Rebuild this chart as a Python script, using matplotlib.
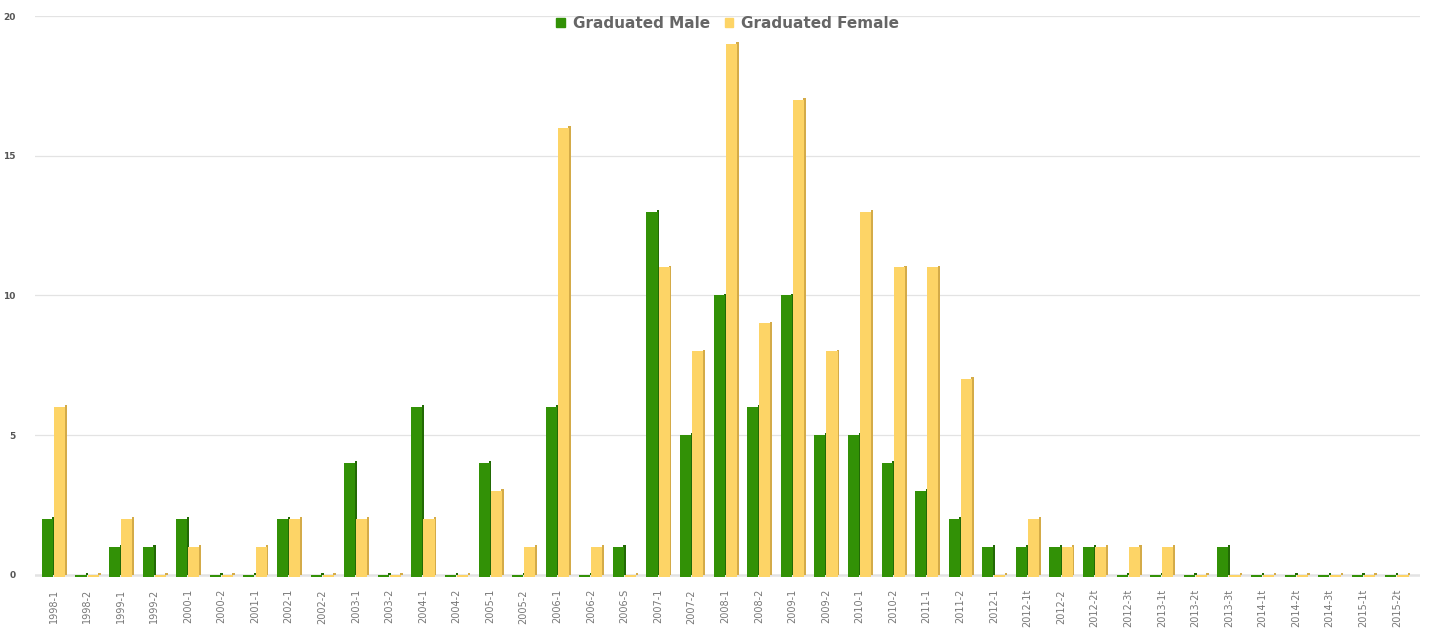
import numpy as np
import matplotlib.pyplot as plt
from matplotlib.patches import Rectangle

terms = ["1998-1", "1998-2", "1999-1", "1999-2", "2000-1", "2000-2", "2001-1",
         "2002-1", "2002-2", "2003-1", "2003-2", "2004-1", "2004-2", "2005-1",
         "2005-2", "2006-1", "2006-2", "2006-S", "2007-1", "2007-2", "2008-1",
         "2008-2", "2009-1", "2009-2", "2010-1", "2010-2", "2011-1", "2011-2",
         "2012-1", "2012-1t", "2012-2", "2012-2t", "2012-3t", "2013-1t", "2013-2t",
         "2013-3t", "2014-1t", "2014-2t", "2014-3t", "2015-1t", "2015-2t"]
male = [2, 0, 1, 1, 2, 0, 0, 2, 0, 4, 0, 6, 0, 4, 0, 6, 0, 1, 13, 5, 10,
        6, 10, 5, 5, 4, 3, 2, 1, 1, 1, 1, 0, 0, 0, 1, 0, 0, 0, 0, 0]
female = [6, 0, 2, 0, 1, 0, 1, 2, 0, 2, 0, 2, 0, 3, 1, 16, 1, 0, 11, 8, 19,
          9, 17, 8, 13, 11, 11, 7, 0, 2, 1, 1, 1, 1, 0, 0, 0, 0, 0, 0, 0]

green, green_dark = "#329106", "#226a05"
yellow, yellow_dark = "#fdd466", "#d4ab48"

fig = plt.figure(figsize=(14.29, 6.44), dpi=100)
ax = fig.add_axes([0.0245, 0.1025, 0.9695, 0.8725])

x = np.arange(len(terms))
w = 0.33
base = -0.08


def bars3d(pos, vals, face, side):
    vals = np.asarray(vals, dtype=float)
    # dark side strip gives the 3D look
    ax.bar(pos + w / 2 + 0.02, vals - base, width=0.07, bottom=base + 0.06,
           color=side, zorder=2, linewidth=0)
    ax.bar(pos, vals - base, width=w, bottom=base, color=face, zorder=3,
           linewidth=0)


bars3d(x - 0.18, male, green, green_dark)
bars3d(x + 0.18, female, yellow, yellow_dark)

ax.set_xlim(-0.55, 40.7)
ax.set_ylim(-0.12, 20)
ax.set_yticks([0, 5, 10, 15, 20])
ax.tick_params(axis="y", labelsize=6.5, colors="#555555", length=0, pad=14)
for t in ax.get_yticklabels():
    t.set_fontweight("bold")
ax.set_xticks(x)
ax.set_xticklabels(terms, rotation=90, fontsize=7, color="#777777")
ax.tick_params(axis="x", length=0, pad=8)

ax.grid(axis="y", color="#e3e3e3", linewidth=0.9, zorder=0)
ax.axhline(0, color="#999999", linewidth=1.0, zorder=1)
for s in ax.spines.values():
    s.set_visible(False)

handles = [Rectangle((0, 0), 1, 1, color=green), Rectangle((0, 0), 1, 1, color=yellow)]
leg = ax.legend(handles, ["Graduated Male", "Graduated Female"], loc="upper center",
                bbox_to_anchor=(0.5, 1.025), ncol=2, frameon=False, handlelength=0.55,
                handleheight=0.55, handletextpad=0.5, columnspacing=1.0,
                prop={"size": 11, "weight": "bold"})
for t in leg.get_texts():
    t.set_color("#666666")

fig.savefig("out.png", dpi=100)
